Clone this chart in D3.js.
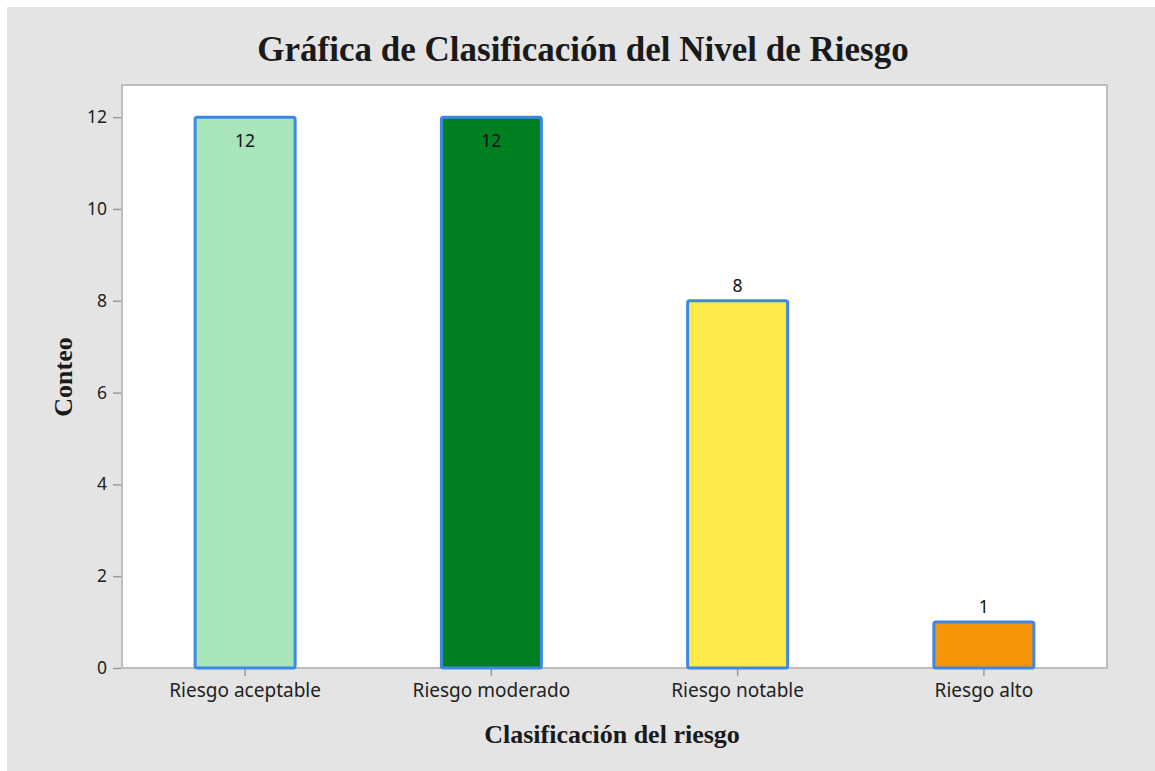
<!DOCTYPE html>
<html>
<head>
<meta charset="utf-8">
<script src="https://cdn.jsdelivr.net/npm/d3@7"></script>
<style>
  html, body { margin: 0; padding: 0; background: #ffffff; }
  svg { display: block; }
</style>
</head>
<body>
<svg id="chart" width="1155" height="771"></svg>
<script>
// Risk classification counts
const categories = ["Riesgo aceptable", "Riesgo moderado", "Riesgo notable", "Riesgo alto"];
const counts = [12, 12, 8, 1];
const barColors = ["#a8e5bb", "#008020", "#ffe94a", "#f39507"];
const yTicks = [0, 2, 4, 6, 8, 10, 12];

const svg = d3.select("#chart");
const W = 1155, H = 771;

// frame background
svg.append("rect").attr("x", 7).attr("y", 7).attr("width", W - 7).attr("height", H - 7)
  .attr("fill", "#e4e4e4");

const plot = { left: 122, top: 85, right: 1107, bottom: 668 };

const x = d3.scaleBand()
  .domain(categories)
  .range([plot.left, plot.right])
  .paddingInner(0.594)
  .paddingOuter(0.297);

const y = d3.scaleLinear()
  .domain([0, 12.7])
  .range([plot.bottom, plot.top]);

// plot area
svg.append("rect")
  .attr("x", plot.left).attr("y", plot.top)
  .attr("width", plot.right - plot.left).attr("height", plot.bottom - plot.top)
  .attr("fill", "#ffffff").attr("stroke", "#bdbdbd").attr("stroke-width", 2);

// bars
svg.append("g").selectAll("rect")
  .data(categories)
  .join("rect")
  .attr("x", d => x(d))
  .attr("y", (d, i) => y(counts[i]))
  .attr("width", x.bandwidth())
  .attr("height", (d, i) => y(0) - y(counts[i]))
  .attr("rx", 2)
  .attr("fill", (d, i) => barColors[i])
  .attr("stroke", "#3d87e8")
  .attr("stroke-width", 3);

// value labels: above the bar, or just inside when there is no room above
svg.append("g").selectAll("text")
  .data(categories)
  .join("text")
  .attr("x", d => x(d) + x.bandwidth() / 2)
  .attr("y", (d, i) => {
    const top = y(counts[i]);
    return top - 40 < plot.top ? top + 30 : top - 9;
  })
  .attr("text-anchor", "middle")
  .attr("font-family", "'Noto Sans', sans-serif")
  .attr("font-size", 17.5)
  .attr("fill", "#111")
  .text((d, i) => counts[i]);

// y axis
const yAxis = d3.axisLeft(y).tickValues(yTicks).tickSize(8).tickPadding(6);
const gy = svg.append("g").attr("transform", `translate(${plot.left - 1},0)`).call(yAxis);
gy.select(".domain").remove();
gy.selectAll(".tick line").attr("stroke", "#999").attr("stroke-width", 1.5);
gy.selectAll(".tick text")
  .attr("font-family", "'Noto Sans', sans-serif")
  .attr("font-size", 17.5)
  .attr("fill", "#222");

// x axis
const xAxis = d3.axisBottom(x).tickSize(7).tickPadding(8);
const gx = svg.append("g").attr("transform", `translate(0,${plot.bottom + 1})`).call(xAxis);
gx.select(".domain").remove();
gx.selectAll(".tick line").attr("stroke", "#999").attr("stroke-width", 1.5);
gx.selectAll(".tick text")
  .attr("font-family", "'Noto Sans', sans-serif")
  .attr("font-size", 19)
  .attr("fill", "#222");

// titles
svg.append("text")
  .attr("x", 583).attr("y", 61)
  .attr("text-anchor", "middle")
  .attr("font-family", "'Liberation Serif', 'Times New Roman', serif")
  .attr("font-weight", "bold")
  .attr("font-size", 35)
  .attr("fill", "#1a1a1a")
  .text("Gráfica de Clasificación del Nivel de Riesgo");

svg.append("text")
  .attr("x", 612).attr("y", 743)
  .attr("text-anchor", "middle")
  .attr("font-family", "'Liberation Serif', 'Times New Roman', serif")
  .attr("font-weight", "bold")
  .attr("font-size", 26)
  .attr("fill", "#1a1a1a")
  .text("Clasificación del riesgo");

svg.append("text")
  .attr("transform", "translate(72,377) rotate(-90)")
  .attr("text-anchor", "middle")
  .attr("font-family", "'Liberation Serif', 'Times New Roman', serif")
  .attr("font-weight", "bold")
  .attr("font-size", 26)
  .attr("fill", "#1a1a1a")
  .text("Conteo");
</script>
</body>
</html>
